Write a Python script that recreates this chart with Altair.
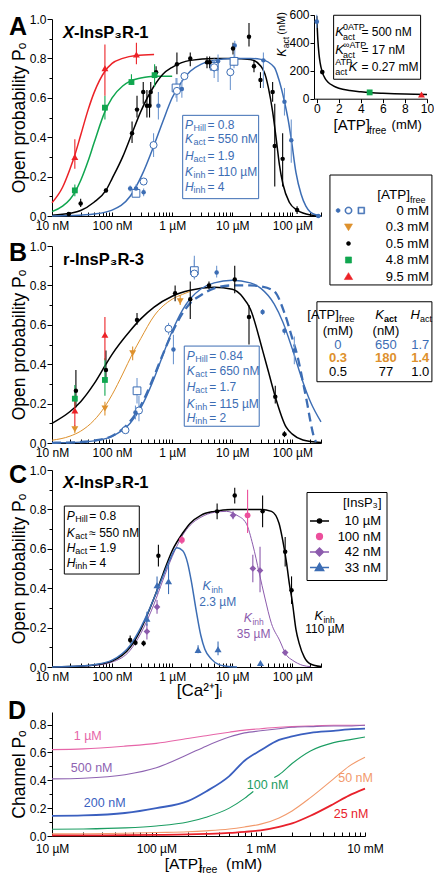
import altair as alt
import pandas as pd

FONT = "Liberation Sans"
BLACK = "#000000"
BLUE = "#3c6db4"
BLUE_BAR = "#7098d0"
RED = "#ec2227"
GREEN = "#10a64f"
ORANGE = "#de912d"
PINK = "#ec4f9c"
PURPLE = "#8c5bad"
D_COLORS = {"pink": "#e665a8", "purple": "#8e63b1", "blue": "#3a5fbf",
            "green": "#1b9d62", "orange": "#f29a6c", "red": "#e8212b"}

W, H = 269, 197
PAD_B, PAD_D = 3, 18
WD, HD = 313, 124

# ------------------------------------------------------------------ Panel A
A_BLUE_CURVE_X = [0.01, 0.02, 0.05, 0.1, 0.2, 0.316, 0.5, 0.7, 1, 1.5, 2, 3, 5, 10, 20, 30, 50, 60, 74, 85, 96, 115, 140, 168, 200, 300]
A_BLUE_CURVE_Y = [0.0, 0.002, 0.01, 0.03, 0.10, 0.21, 0.36, 0.48, 0.6, 0.69, 0.735, 0.77, 0.79, 0.8, 0.8, 0.795, 0.755, 0.69, 0.58, 0.49, 0.39, 0.22, 0.11, 0.05, 0.02, 0.0]
A_BLACK_CURVE_X = [0.01, 0.02, 0.03, 0.05, 0.079, 0.1, 0.15, 0.215, 0.3, 0.5, 0.7, 1, 2, 5, 10, 20, 30, 36.7, 40, 47, 55, 61, 70, 89, 120, 150, 200, 300]
A_BLACK_CURVE_Y = [0.004, 0.014, 0.028, 0.07, 0.13, 0.19, 0.30, 0.42, 0.53, 0.66, 0.72, 0.755, 0.79, 0.80, 0.80, 0.795, 0.76, 0.70, 0.65, 0.53, 0.37, 0.26, 0.16, 0.07, 0.03, 0.015, 0.005, 0.0]
A_GREEN_CURVE_X = [0.01, 0.015, 0.02, 0.024, 0.03, 0.04, 0.05, 0.076, 0.1, 0.15, 0.2, 0.3, 0.5, 1]
A_GREEN_CURVE_Y = [0.022, 0.05, 0.085, 0.12, 0.18, 0.28, 0.37, 0.53, 0.60, 0.66, 0.685, 0.70, 0.71, 0.71]
A_RED_CURVE_X = [0.01, 0.015, 0.02, 0.024, 0.03, 0.04, 0.05, 0.076, 0.1, 0.15, 0.25, 0.5]
A_RED_CURVE_Y = [0.067, 0.146, 0.24, 0.31, 0.41, 0.54, 0.625, 0.735, 0.775, 0.80, 0.815, 0.82]

A_BLUE_X = [0.20, 0.25, 0.335, 0.59, 1.45, 5.8, 11, 33, 74, 96, 270]
A_BLUE_Y = [0.14, 0.14, 0.12, 0.56, 0.645, 0.785, 0.865, 0.79, 0.58, 0.385, 0.0]
A_BLUE_LO = [0.125, 0.12, 0.10, 0.49, 0.60, 0.68, 0.80, 0.65, 0.51, 0.27, 0.0]
A_BLUE_HI = [0.155, 0.16, 0.14, 0.63, 0.69, 0.82, 0.89, 0.83, 0.65, 0.49, 0.0]
A_OC_X = [0.335, 0.49, 1.2, 1.6, 5.0, 9.3]
A_OC_Y = [0.175, 0.36, 0.635, 0.71, 0.755, 0.73]
A_OC_LO = [0.16, 0.30, 0.58, 0.69, 0.70, 0.64]
A_OC_HI = [0.19, 0.42, 0.70, 0.73, 0.80, 0.80]
A_OS_X = [0.25, 1.16, 5.0, 10.7]
A_OS_Y = [0.115, 0.65, 0.76, 0.785]
A_OS_LO = [0.10, 0.60, 0.73, 0.75]
A_OS_HI = [0.13, 0.70, 0.79, 0.82]
A_BLACK_X = [0.019, 0.030, 0.079, 0.215, 0.26, 0.33, 0.38, 0.42, 0.44, 0.54, 1.2, 2.0, 3.8, 4.2, 10.3, 19, 23, 29.5, 47, 51, 69, 120]
A_BLACK_Y = [0.01, 0.064, 0.13, 0.42, 0.54, 0.63, 0.56, 0.56, 0.63, 0.73, 0.77, 0.80, 0.78, 0.78, 0.85, 0.91, 0.76, 0.69, 0.63, 0.355, 0.29, 0.03]
A_BLACK_LO = [0.005, 0.046, 0.12, 0.37, 0.50, 0.57, 0.50, 0.50, 0.56, 0.70, 0.72, 0.76, 0.75, 0.75, 0.82, 0.86, 0.73, 0.65, 0.58, 0.15, 0.15, 0.01]
A_BLACK_HI = [0.015, 0.088, 0.14, 0.48, 0.61, 0.68, 0.64, 0.62, 0.68, 0.76, 0.83, 0.83, 0.81, 0.81, 0.88, 0.98, 0.79, 0.73, 0.68, 0.57, 0.42, 0.05]
A_GREEN_X = [0.024, 0.076, 0.21, 0.51]
A_GREEN_Y = [0.13, 0.55, 0.68, 0.715]
A_GREEN_LO = [0.10, 0.49, 0.665, 0.655]
A_GREEN_HI = [0.16, 0.61, 0.72, 0.77]
A_RED_X = [0.024, 0.076, 0.254]
A_RED_Y = [0.30, 0.75, 0.82]
A_RED_LO = [0.24, 0.61, 0.77]
A_RED_HI = [0.39, 0.87, 0.88]

# inset (Kact vs ATP)
IN_CURVE_X = [0, 0.1, 0.2, 0.3, 0.5, 0.75, 1, 1.5, 2, 3, 4, 5, 6, 8, 10]
IN_CURVE_Y = [590, 420, 320, 260, 190, 145, 120, 92, 75, 58, 49, 43, 39, 33, 30]
IN_PT_X = [0, 0.5, 4.8, 9.5]
IN_PT_Y = [550, 190, 45, 30]

ATP_LABELS = ["0 mM", "0.3 mM", "0.5 mM", "4.8 mM", "9.5 mM"]
ATP_COLORS = [BLUE, ORANGE, BLACK, GREEN, RED]
ATP_SHAPES = [
    "M-1.55,0a0.25,0.25 0 1,0 0.5,0a0.25,0.25 0 1,0 -0.5,0Z"
    "M-0.45,0a0.45,0.45 0 1,0 0.9,0a0.45,0.45 0 1,0 -0.9,0Z"
    "M-0.34,0a0.34,0.34 0 1,1 0.68,0a0.34,0.34 0 1,1 -0.68,0Z"
    "M1.18,-0.42L2.02,-0.42L2.02,0.42L1.18,0.42Z"
    "M1.29,-0.31L1.29,0.31L1.91,0.31L1.91,-0.31Z",
    "M-0.5,-0.38L0.5,-0.38L0,0.46Z",
    "M-0.25,0a0.25,0.25 0 1,0 0.5,0a0.25,0.25 0 1,0 -0.5,0Z",
    "M-0.38,-0.38L0.38,-0.38L0.38,0.38L-0.38,0.38Z",
    "M0,-0.48L0.52,0.38L-0.52,0.38Z",
]

# ------------------------------------------------------------------ Panel B
B_BLACK_CURVE_X = [0.01, 0.02, 0.03, 0.05, 0.079, 0.1, 0.2, 0.3, 0.5, 1, 2, 5, 10, 15, 20, 32, 41, 52, 79, 100, 150, 300]
B_BLACK_CURVE_Y = [0.10, 0.16, 0.21, 0.30, 0.40, 0.45, 0.57, 0.63, 0.69, 0.745, 0.775, 0.79, 0.78, 0.74, 0.68, 0.47, 0.35, 0.235, 0.08, 0.045, 0.015, 0.002]
B_ORANGE_CURVE_X = [0.01, 0.02, 0.03, 0.05, 0.076, 0.1, 0.15, 0.22, 0.3, 0.5, 1, 1.5, 2]
B_ORANGE_CURVE_Y = [0.014, 0.035, 0.06, 0.115, 0.185, 0.245, 0.35, 0.455, 0.53, 0.645, 0.73, 0.755, 0.77]
B_BLUE_CURVE_X = [0.01, 0.03, 0.05, 0.1, 0.2, 0.3, 0.5, 0.7, 1, 1.5, 2, 3, 5, 10, 20, 30, 50, 70, 100, 150, 200, 300]
B_BLUE_CURVE_Y = [0.001, 0.0045, 0.011, 0.034, 0.10, 0.178, 0.328, 0.446, 0.567, 0.677, 0.732, 0.782, 0.813, 0.826, 0.813, 0.785, 0.705, 0.612, 0.477, 0.31, 0.209, 0.107]
B_DASH_CURVE_X = [0.01, 0.03, 0.05, 0.1, 0.2, 0.3, 0.5, 0.7, 1, 1.5, 2, 3, 5, 10, 20, 30, 50, 74, 100, 122, 150, 177, 200, 229, 250]
B_DASH_CURVE_Y = [0.001, 0.005, 0.012, 0.036, 0.11, 0.19, 0.34, 0.45, 0.56, 0.66, 0.71, 0.75, 0.785, 0.80, 0.80, 0.795, 0.77, 0.66, 0.53, 0.44, 0.31, 0.20, 0.11, 0.03, 0.005]

B_BLACK_X = [0.025, 0.079, 0.26, 1.12, 2.0, 4.1, 11, 19, 52, 74]
B_BLACK_Y = [0.265, 0.37, 0.625, 0.76, 0.73, 0.80, 0.83, 0.64, 0.235, 0.045]
B_BLACK_LO = [0.18, 0.32, 0.60, 0.72, 0.63, 0.78, 0.76, 0.50, 0.20, 0.03]
B_BLACK_HI = [0.37, 0.47, 0.66, 0.80, 0.82, 0.82, 0.90, 0.70, 0.29, 0.06]
B_ORANGE_X = [0.024, 0.076, 0.22, 1.36]
B_ORANGE_Y = [0.07, 0.175, 0.455, 0.72]
B_ORANGE_LO = [0.05, 0.14, 0.42, 0.70]
B_ORANGE_HI = [0.09, 0.21, 0.49, 0.75]
B_GREEN_X = [0.024, 0.076]
B_GREEN_Y = [0.225, 0.32]
B_GREEN_LO = [0.185, 0.24]
B_GREEN_HI = [0.295, 0.43]
B_RED_X = [0.024, 0.076]
B_RED_Y = [0.165, 0.55]
B_RED_LO = [0.085, 0.42]
B_RED_HI = [0.24, 0.64]
B_BLUE_X = [0.245, 1.05, 5.5, 32, 74, 108]
B_BLUE_Y = [0.155, 0.475, 0.865, 0.665, 0.57, 0.47]
B_BLUE_LO = [0.12, 0.40, 0.84, 0.65, 0.55, 0.40]
B_BLUE_HI = [0.19, 0.55, 0.90, 0.68, 0.59, 0.54]
B_OC_X = [0.167, 0.28, 0.87, 2.34]
B_OC_Y = [0.065, 0.165, 0.58, 0.86]
B_OC_LO = [0.06, 0.11, 0.55, 0.83]
B_OC_HI = [0.07, 0.24, 0.61, 0.93]
B_OS_X = [0.26, 2.34]
B_OS_Y = [0.265, 0.875]
B_OS_LO = [0.20, 0.85]
B_OS_HI = [0.33, 0.95]

# ------------------------------------------------------------------ Panel C
C_BLACK_CURVE_X = [0.01, 0.02, 0.05, 0.1, 0.2, 0.3, 0.5, 0.7, 1, 1.5, 2, 3, 5, 10, 20, 30, 45, 60, 69, 80, 89, 100, 115, 130, 158, 200, 300]
C_BLACK_CURVE_Y = [0.0, 0.002, 0.01, 0.03, 0.10, 0.19, 0.35, 0.47, 0.59, 0.68, 0.73, 0.77, 0.79, 0.80, 0.80, 0.80, 0.79, 0.73, 0.645, 0.53, 0.425, 0.33, 0.19, 0.12, 0.05, 0.015, 0.002]
C_PURPLE_CURVE_X = [0.01, 0.05, 0.1, 0.2, 0.3, 0.5, 0.7, 1, 1.5, 2, 3, 5, 8, 12, 17, 22, 28, 35, 45, 61, 80, 100, 150, 200]
C_PURPLE_CURVE_Y = [0.0, 0.008, 0.025, 0.085, 0.17, 0.32, 0.44, 0.56, 0.67, 0.72, 0.76, 0.785, 0.79, 0.77, 0.73, 0.62, 0.48, 0.35, 0.22, 0.137, 0.06, 0.035, 0.008, 0.002]
C_BLUE_CURVE_X = [0.01, 0.03, 0.05, 0.1, 0.2, 0.3, 0.4, 0.5, 0.7, 0.9, 1.2, 1.5, 1.8, 2.1, 2.5, 3, 3.5, 4.5, 6, 8, 12]
C_BLUE_CURVE_Y = [0.0, 0.005, 0.012, 0.035, 0.11, 0.2, 0.28, 0.35, 0.46, 0.54, 0.605, 0.59, 0.53, 0.43, 0.29, 0.16, 0.09, 0.04, 0.012, 0.004, 0.0]

C_BLACK_X = [0.20, 0.245, 0.335, 0.59, 5.6, 11, 32, 76, 97]
C_BLACK_Y = [0.137, 0.123, 0.12, 0.565, 0.79, 0.87, 0.79, 0.585, 0.39]
C_BLACK_LO = [0.12, 0.11, 0.105, 0.51, 0.75, 0.83, 0.71, 0.51, 0.32]
C_BLACK_HI = [0.16, 0.14, 0.135, 0.62, 0.83, 0.91, 0.87, 0.66, 0.46]
C_PINK_X = [1.45, 18]
C_PINK_Y = [0.645, 0.77]
C_PINK_LO = [0.625, 0.68]
C_PINK_HI = [0.665, 0.90]
C_PURPLE_X = [0.38, 0.56, 10.3, 22, 29, 76]
C_PURPLE_Y = [0.18, 0.305, 0.77, 0.50, 0.49, 0.073]
C_PURPLE_LO = [0.14, 0.27, 0.75, 0.43, 0.38, 0.07]
C_PURPLE_HI = [0.22, 0.34, 0.79, 0.57, 0.61, 0.08]
C_BLUE_X = [0.38, 0.56, 0.87, 2.7, 5.8, 29.5]
C_BLUE_Y = [0.245, 0.415, 0.435, 0.087, 0.09, 0.02]
C_BLUE_LO = [0.21, 0.37, 0.37, 0.07, 0.06, 0.01]
C_BLUE_HI = [0.28, 0.46, 0.52, 0.11, 0.13, 0.03]

INSP_LABELS = ["10 \u00b5M", "100 nM", "42 nM", "33 nM"]
INSP_COLORS = [BLACK, PINK, PURPLE, BLUE]
INSP_SHAPES = [
    "M-1.36,0L1.36,0M-0.3,0a0.3,0.3 0 1,0 0.6,0a0.3,0.3 0 1,0 -0.6,0Z",
    "M-0.42,0a0.42,0.42 0 1,0 0.84,0a0.42,0.42 0 1,0 -0.84,0Z",
    "M-1.36,0L1.36,0M0,-0.57L0.57,0L0,0.57L-0.57,0Z",
    "M-1.36,0L1.36,0M0,-0.6L0.6,0.43L-0.6,0.43Z",
]

# ------------------------------------------------------------------ Panel D
D_X = [10, 20, 50, 100, 200, 300, 500, 700, 1000, 1500, 2000, 3000, 5000, 7000, 10000]
D_PINK = [0.62, 0.625, 0.645, 0.665, 0.70, 0.72, 0.745, 0.76, 0.77, 0.78, 0.785, 0.79, 0.795, 0.795, 0.795]
D_PURPLE = [0.41, 0.415, 0.44, 0.49, 0.585, 0.645, 0.71, 0.74, 0.755, 0.77, 0.78, 0.785, 0.79, 0.79, 0.795]
D_BLUE = [0.145, 0.148, 0.165, 0.20, 0.25, 0.32, 0.43, 0.54, 0.615, 0.69, 0.715, 0.74, 0.755, 0.765, 0.77]
D_ORANGE = [0.015, 0.016, 0.02, 0.025, 0.03, 0.037, 0.05, 0.065, 0.085, 0.13, 0.18, 0.275, 0.41, 0.50, 0.565]
D_RED = [0.005, 0.005, 0.006, 0.008, 0.011, 0.015, 0.022, 0.03, 0.04, 0.065, 0.09, 0.145, 0.23, 0.29, 0.34]
D_GREEN1_X = [10, 20, 50, 100, 200, 300, 500, 700, 850]
D_GREEN1_Y = [0.048, 0.05, 0.058, 0.072, 0.10, 0.135, 0.20, 0.27, 0.32]
D_GREEN2_X = [1350, 1500, 2000, 3000, 5000, 7000, 10000]
D_GREEN2_Y = [0.42, 0.44, 0.52, 0.61, 0.67, 0.69, 0.71]
D_LABEL_T = ["1 \u00b5M", "500 nM", "200 nM", "100 nM", "50 nM", "25 nM"]
D_LABEL_X = [22, 24, 32, 1166, 8130, 7350]
D_LABEL_Y = [0.72, 0.49, 0.237, 0.363, 0.417, 0.155]
D_LABEL_C = ["pink", "purple", "blue", "green", "orange", "red"]

# tick positions
X_DEC = [0.01, 0.1, 1, 10, 100]
X_ALL = [m * d for d in (0.01, 0.1, 1, 10, 100) for m in range(1, 10) if m * d <= 300]
X_LAB = ("datum.value == 0.01 ? '10 nM' : datum.value == 0.1 ? '100 nM' : datum.value == 1 ? '1 \u00b5M' : "
         "datum.value == 10 ? '10 \u00b5M' : '100 \u00b5M'")
D_DEC = [10, 100, 1000, 10000]
D_ALL = [m * d for d in (10, 100, 1000) for m in range(1, 10)] + [10000]
D_LAB = "datum.value == 10 ? '10 \u00b5M' : datum.value == 100 ? '100 \u00b5M' : datum.value == 1000 ? '1 mM' : '10 mM'"
Y_MAJ = [0, 0.2, 0.4, 0.6, 0.8, 1.0]
Y_MIN = [0.1, 0.3, 0.5, 0.7, 0.9]
YD_MAJ = [0, 0.2, 0.4, 0.6, 0.8]
YD_MIN = [0.1, 0.3, 0.5, 0.7]
PO_TITLE = "Open probability P\u2092"


def frame(**cols):
    return pd.DataFrame(cols)


def XQ(xs, field="x"):
    return alt.X(f"{field}:Q", scale=xs, axis=None)


def YQ(ys, field="y"):
    return alt.Y(f"{field}:Q", scale=ys, axis=None)


def curve(x, y, xs, ys, color, width=1.5, dash=None):
    kw = dict(color=color, strokeWidth=width, interpolate="monotone")
    if dash:
        kw["strokeDash"] = dash
    return alt.Chart(frame(x=x, y=y)).mark_line(**kw).encode(x=XQ(xs), y=YQ(ys))


def bars(x, lo, hi, xs, ys, color, width=1.1):
    return alt.Chart(frame(x=x, lo=lo, hi=hi)).mark_rule(color=color, strokeWidth=width).encode(
        x=XQ(xs), y=YQ(ys, "lo"), y2=alt.Y2("hi:Q"))


def pts(x, y, xs, ys, shape, color, size, hollow=False, sw=1.0):
    if hollow:
        kw = dict(shape=shape, filled=True, fill="white", stroke=color, strokeWidth=sw, size=size, opacity=1)
    else:
        kw = dict(shape=shape, filled=True, color=color, size=size, opacity=1)
    return alt.Chart(frame(x=x, y=y)).mark_point(**kw).encode(x=XQ(xs), y=YQ(ys))


def T(x, y, t, xs, ys, size=12, color=BLACK, align="left", baseline="middle",
      style="normal", weight="normal", dx=0, dy=0, angle=0):
    return alt.Chart(frame(x=x, y=y, t=t)).mark_text(
        font=FONT, fontSize=size, color=color, align=align, baseline=baseline,
        fontStyle=style, fontWeight=weight, dx=dx, dy=dy, angle=angle).encode(
        x=XQ(xs), y=YQ(ys), text=alt.Text("t:N"))


def rect(x, x2, y, y2, xs, ys, color, sw=1.0):
    return alt.Chart(frame(x=[x], x2=[x2], y=[y], y2=[y2])).mark_rect(
        fillOpacity=0, stroke=color, strokeWidth=sw).encode(
        x=XQ(xs), x2=alt.X2("x2:Q"), y=YQ(ys), y2=alt.Y2("y2:Q"))


def stat_box(x0, ylist, syms, subs, vals, xs, ys, color, size=12):
    n = len(syms)
    return [T([x0] * n, ylist, syms, xs, ys, size, color, style="italic"),
            T([x0] * n, ylist, subs, xs, ys, 9, color, dx=8.5, dy=3),
            T([x0] * n, ylist, vals, xs, ys, size, color, dx=22.5)]


def carriers(x, y, xs, ys, hgroup, xdec, xall, labexpr, ymaj, ymin, ytitle,
             xtitle=None, titlex=None, labpad=4):
    xa = dict(orient="bottom", values=xdec, labelExpr=labexpr, ticks=False, domainColor=BLACK,
              domainWidth=1, labelPadding=labpad, labelFlush=False, labelOverlap=False,
              labelFontSize=12, title=xtitle, titleFontSize=17, titleFontWeight="normal", titlePadding=0)
    if titlex is not None:
        xa["titleX"] = titlex
    ax1 = alt.Axis(**xa)
    ay1 = alt.Axis(orient="left", values=ymaj, format=".1f", tickSize=5, tickColor=BLACK, tickWidth=1,
                   domainColor=BLACK, domainWidth=1, labelPadding=1, labelFontSize=12, labelOverlap=False,
                   title=ytitle, titleFontSize=17.5, titleFontWeight="normal", titlePadding=1)
    ax2 = alt.Axis(orient="top", offset=-hgroup, values=xall, labels=False, domain=False, tickSize=4,
                   tickColor=BLACK, tickWidth=1, title=None)
    ay2 = alt.Axis(orient="left", values=ymin, labels=False, domain=False, tickSize=3,
                   tickColor=BLACK, tickWidth=1, title=None)
    df = frame(x=x, y=y)
    c1 = alt.Chart(df).mark_point(opacity=0).encode(x=alt.X("x:Q", scale=xs, axis=ax1),
                                                    y=alt.Y("y:Q", scale=ys, axis=ay1))
    c2 = alt.Chart(df).mark_point(opacity=0).encode(x=alt.X("x:Q", scale=xs, axis=ax2),
                                                    y=alt.Y("y:Q", scale=ys, axis=ay2))
    return [c1, c2]


def title_text(x, y, first, rest, xs, ys, italic_first=True):
    return [T([x], [y], [first], xs, ys, 16.5, BLACK, style="italic" if italic_first else "normal", weight="bold"),
            T([x], [y], [rest], xs, ys, 16.5, BLACK, weight="bold", dx=11 if italic_first else 0)]


BOX_RIGHT = 21040  # right edge of legend / table boxes (µM units of panels A-B)

# ================================================================== build A
xsA = alt.Scale(type="log", domain=[0.01, 300], nice=False)
ysA = alt.Scale(domain=[0, 1], nice=False, zero=False)

leg_atp = alt.Legend(orient="none", legendX=288, legendY=183, title=None, labelAlign="right",
                     labelOffset=72, labelFontSize=13, symbolSize=256, symbolStrokeWidth=0.6,
                     symbolOpacity=1, padding=0, rowPadding=0.5)
atp_dummy = alt.Chart(frame(atp=ATP_LABELS)).mark_point(filled=True, opacity=0, size=256).encode(
    color=alt.Color("atp:N", scale=alt.Scale(domain=ATP_LABELS, range=ATP_COLORS), legend=leg_atp),
    stroke=alt.Stroke("atp:N", scale=alt.Scale(domain=ATP_LABELS, range=ATP_COLORS), legend=leg_atp),
    shape=alt.Shape("atp:N", scale=alt.Scale(domain=ATP_LABELS, range=ATP_SHAPES), legend=leg_atp),
)

layersA = carriers(A_BLUE_CURVE_X, A_BLUE_CURVE_Y, xsA, ysA, H, X_DEC, X_ALL, X_LAB, Y_MAJ, Y_MIN, PO_TITLE)
layersA += [
    curve(A_RED_CURVE_X, A_RED_CURVE_Y, xsA, ysA, RED),
    curve(A_GREEN_CURVE_X, A_GREEN_CURVE_Y, xsA, ysA, GREEN),
    curve(A_BLACK_CURVE_X, A_BLACK_CURVE_Y, xsA, ysA, BLACK),
    curve(A_BLUE_CURVE_X, A_BLUE_CURVE_Y, xsA, ysA, BLUE),
    bars(A_BLUE_X, A_BLUE_LO, A_BLUE_HI, xsA, ysA, BLUE_BAR),
    bars(A_OC_X, A_OC_LO, A_OC_HI, xsA, ysA, BLUE_BAR),
    bars(A_OS_X, A_OS_LO, A_OS_HI, xsA, ysA, BLUE_BAR),
    bars(A_BLACK_X, A_BLACK_LO, A_BLACK_HI, xsA, ysA, BLACK),
    bars(A_GREEN_X, A_GREEN_LO, A_GREEN_HI, xsA, ysA, GREEN),
    bars(A_RED_X, A_RED_LO, A_RED_HI, xsA, ysA, RED),
    pts(A_OS_X, A_OS_Y, xsA, ysA, "square", BLUE, 60, hollow=True),
    pts(A_OC_X, A_OC_Y, xsA, ysA, "circle", BLUE, 50, hollow=True),
    pts(A_BLUE_X, A_BLUE_Y, xsA, ysA, "circle", BLUE, 20),
    pts(A_BLACK_X, A_BLACK_Y, xsA, ysA, "circle", BLACK, 20),
    pts(A_GREEN_X, A_GREEN_Y, xsA, ysA, "square", GREEN, 34),
    pts(A_RED_X, A_RED_Y, xsA, ysA, "triangle-up", RED, 48),
    rect(1.496, 27.5, 0.511, 0.088, xsA, ysA, BLUE),
]
layersA += stat_box(1.633, [0.46, 0.389, 0.305, 0.223, 0.147], ["P", "K", "H", "K", "H"],
                    ["Hill", "act", "act", "inh", "inh"],
                    ["= 0.8", "= 550 nM", "= 1.9", "= 110 \u00b5M", "= 4"], xsA, ysA, BLUE)
layersA += title_text(0.01524, 0.93, "X", "-InsP\u2083R-1", xsA, ysA)
layersA += [
    T([0.001925], [0.957], ["A"], xsA, ysA, 25, BLACK, weight="bold"),
    rect(422.6, BOX_RIGHT, 0.208, -0.35, xsA, ysA, BLACK),
    T([9057], [0.107], ["[ATP]"], xsA, ysA, 13.5, BLACK, align="right"),
    T([9057], [0.107], ["free"], xsA, ysA, 9, BLACK, dy=5),
    atp_dummy,
]
A_main = alt.layer(*layersA).resolve_axis(x="independent", y="independent")

xsI = alt.Scale(domain=[-0.25, 10], range=[262, 375], nice=False, zero=False)
ysI = alt.Scale(domain=[0, 600], range=[79.7, -4.3], nice=False, zero=False)
axIx = alt.Axis(orient="bottom", offset=-117.3, values=[0, 2, 4, 6, 8, 10], format="d", tickSize=4,
                labelPadding=1, labelFontSize=12, labelFlush=False, labelOverlap=False,
                domainColor=BLACK, tickColor=BLACK, title=None)
axIy = alt.Axis(orient="left", offset=-262, values=[0, 200, 400, 600], format="d", tickSize=4,
                labelPadding=1, labelFontSize=12, labelOverlap=False, domainColor=BLACK,
                tickColor=BLACK, title=None)
inset_layers = [
    alt.Chart(frame(x=IN_CURVE_X, y=IN_CURVE_Y)).mark_line(color=BLACK, strokeWidth=1.5, interpolate="monotone").encode(
        x=alt.X("x:Q", scale=xsI, axis=axIx), y=alt.Y("y:Q", scale=ysI, axis=axIy)),
    bars([0], [505], [600], xsI, ysI, BLUE_BAR),
    pts(IN_PT_X[0:1], IN_PT_Y[0:1], xsI, ysI, "circle", BLUE, 22),
    pts(IN_PT_X[1:2], IN_PT_Y[1:2], xsI, ysI, "circle", BLACK, 22),
    pts(IN_PT_X[2:3], IN_PT_Y[2:3], xsI, ysI, "square", GREEN, 34),
    pts(IN_PT_X[3:4], IN_PT_Y[3:4], xsI, ysI, "triangle-up", RED, 48),
    rect(1.53, 9.42, 596, 139, xsI, ysI, BLACK),
    T([1.68, 1.68], [476, 346], ["K", "K"], xsI, ysI, 13, style="italic"),
    T([2.38, 2.38], [476, 346], ["0ATP", "\u221eATP"], xsI, ysI, 9, dy=-5),
    T([2.38, 2.38], [476, 346], ["act", "act"], xsI, ysI, 9, dy=5),
    T([1.68], [226], ["ATP"], xsI, ysI, 9, dy=-5),
    T([1.68], [226], ["act"], xsI, ysI, 9, dy=5),
    T([2.905], [226], ["K"], xsI, ysI, 13, style="italic"),
    T([4.05, 4.05, 4.05], [476, 346, 226], ["= 500 nM", "= 17 nM", "= 0.27 mM"], xsI, ysI, 12),
    T([-3.15], [300], ["K"], xsI, ysI, 12.5, style="italic", angle=270),
    T([-3.15], [300], ["act"], xsI, ysI, 8.5, dx=8.5, dy=4, angle=270),
    T([-3.15], [300], ["(nM)"], xsI, ysI, 11, dx=22, angle=270),
    T([1.53], [-188], ["[ATP]"], xsI, ysI, 15),
    T([4.75], [-232], ["free"], xsI, ysI, 10),
    T([6.79], [-190], ["(mM)"], xsI, ysI, 13),
]
A_inset = alt.layer(*inset_layers).resolve_axis(x="independent", y="independent")
A = alt.layer(A_main, A_inset).resolve_scale(x="independent", y="independent").properties(width=W, height=H)

# ================================================================== build B
xsB = alt.Scale(type="log", domain=[0.01, 300], nice=False)
ysB = alt.Scale(domain=[0, 1], nice=False, zero=False, range=[H + PAD_B, PAD_B])
layersB = carriers(B_BLUE_CURVE_X, B_BLUE_CURVE_Y, xsB, ysB, H + PAD_B, X_DEC, X_ALL, X_LAB, Y_MAJ, Y_MIN, PO_TITLE)
layersB += [
    curve(B_BLACK_CURVE_X, B_BLACK_CURVE_Y, xsB, ysB, BLACK),
    curve(B_ORANGE_CURVE_X, B_ORANGE_CURVE_Y, xsB, ysB, ORANGE, 1.0),
    curve(B_BLUE_CURVE_X, B_BLUE_CURVE_Y, xsB, ysB, BLUE, 1.4),
    curve(B_DASH_CURVE_X, B_DASH_CURVE_Y, xsB, ysB, BLUE, 2.3, dash=[9, 5]),
    bars(B_BLUE_X, B_BLUE_LO, B_BLUE_HI, xsB, ysB, BLUE_BAR),
    bars(B_OC_X, B_OC_LO, B_OC_HI, xsB, ysB, BLUE_BAR),
    bars(B_OS_X, B_OS_LO, B_OS_HI, xsB, ysB, BLUE_BAR),
    bars(B_BLACK_X, B_BLACK_LO, B_BLACK_HI, xsB, ysB, BLACK),
    bars(B_ORANGE_X, B_ORANGE_LO, B_ORANGE_HI, xsB, ysB, ORANGE),
    bars(B_GREEN_X, B_GREEN_LO, B_GREEN_HI, xsB, ysB, GREEN),
    bars(B_RED_X, B_RED_LO, B_RED_HI, xsB, ysB, RED),
    pts(B_OS_X, B_OS_Y, xsB, ysB, "square", BLUE, 60, hollow=True),
    pts(B_OC_X, B_OC_Y, xsB, ysB, "circle", BLUE, 50, hollow=True),
    pts(B_BLUE_X, B_BLUE_Y, xsB, ysB, "circle", BLUE, 20),
    pts(B_BLACK_X, B_BLACK_Y, xsB, ysB, "circle", BLACK, 20),
    pts(B_ORANGE_X, B_ORANGE_Y, xsB, ysB, "triangle-down", ORANGE, 48),
    pts(B_GREEN_X, B_GREEN_Y, xsB, ysB, "square", GREEN, 34),
    pts(B_RED_X, B_RED_Y, xsB, ysB, "triangle-up", RED, 48),
    rect(1.589, 28.1, 0.492, 0.085, xsB, ysB, BLUE),
]
layersB += stat_box(1.742, [0.442, 0.365, 0.286, 0.20, 0.125], ["P", "K", "H", "K", "H"],
                    ["Hill", "act", "act", "inh", "inh"],
                    ["= 0.84", "= 650 nM", "= 1.7", "= 115 \u00b5M", "= 2"], xsB, ysB, BLUE)
layersB += title_text(0.01524, 0.93, "", "r-InsP\u2083R-3", xsB, ysB, italic_first=False)
TAB_COLX = [574, 3610, 13430]
layersB += [
    T([0.001925], [0.964], ["B"], xsB, ysB, 25, BLACK, weight="bold"),
    rect(256.6, BOX_RIGHT, 0.717, 0.311, xsB, ysB, BLACK),
    T([596], [0.65], ["[ATP]"], xsB, ysB, 13, align="right"),
    T([596], [0.65], ["free"], xsB, ysB, 9, dy=4),
    T([3345, 13280], [0.65, 0.65], ["K", "H"], xsB, ysB, 13, align="right", style="italic"),
    T([3345], [0.65], ["act"], xsB, ysB, 9, weight="bold", dy=4),
    T([13280], [0.65], ["act"], xsB, ysB, 9, dy=4),
    T(TAB_COLX[:2], [0.566, 0.566], ["(mM)", "(nM)"], xsB, ysB, 13, align="center"),
    T(TAB_COLX, [0.497] * 3, ["0", "650", "1.7"], xsB, ysB, 13, BLUE, align="center"),
    T(TAB_COLX, [0.430] * 3, ["0.3", "180", "1.4"], xsB, ysB, 13, ORANGE, align="center", weight="bold"),
    T(TAB_COLX, [0.362] * 3, ["0.5", "77", "1.0"], xsB, ysB, 13, BLACK, align="center"),
]
B = alt.layer(*layersB).resolve_axis(x="independent", y="independent").properties(width=W, height=H + PAD_B)

# ================================================================== build C
xsC = alt.Scale(type="log", domain=[0.01, 300], nice=False)
ysC = alt.Scale(domain=[0, 1], nice=False, zero=False)
leg_insp = alt.Legend(orient="none", legendX=254.5, legendY=22, title="[InsP\u2083]", titleAnchor="end",
                      titleFontSize=13, titleFontWeight="normal", titlePadding=3, labelAlign="right",
                      labelOffset=53.5, labelFontSize=13, symbolSize=196, symbolStrokeWidth=1.4,
                      symbolOpacity=1, padding=5, rowPadding=0.5, strokeColor=BLACK)
insp_dummy = alt.Chart(frame(insp=INSP_LABELS)).mark_point(filled=True, opacity=0, size=196).encode(
    color=alt.Color("insp:N", scale=alt.Scale(domain=INSP_LABELS, range=INSP_COLORS), legend=leg_insp),
    stroke=alt.Stroke("insp:N", scale=alt.Scale(domain=INSP_LABELS, range=INSP_COLORS), legend=leg_insp),
    shape=alt.Shape("insp:N", scale=alt.Scale(domain=INSP_LABELS, range=INSP_SHAPES), legend=leg_insp),
)
layersC = carriers(C_BLACK_CURVE_X, C_BLACK_CURVE_Y, xsC, ysC, H, X_DEC, X_ALL, X_LAB, Y_MAJ, Y_MIN, PO_TITLE,
                   xtitle="[Ca\u00b2\u207a]\u1d62", titlex=147)
layersC += [
    curve(C_PURPLE_CURVE_X, C_PURPLE_CURVE_Y, xsC, ysC, PURPLE, 1.0),
    curve(C_BLACK_CURVE_X, C_BLACK_CURVE_Y, xsC, ysC, BLACK),
    curve(C_BLUE_CURVE_X, C_BLUE_CURVE_Y, xsC, ysC, BLUE),
    bars(C_BLACK_X, C_BLACK_LO, C_BLACK_HI, xsC, ysC, BLACK),
    bars(C_PINK_X, C_PINK_LO, C_PINK_HI, xsC, ysC, PINK),
    bars(C_PURPLE_X, C_PURPLE_LO, C_PURPLE_HI, xsC, ysC, PURPLE),
    bars(C_BLUE_X, C_BLUE_LO, C_BLUE_HI, xsC, ysC, BLUE),
    pts(C_BLACK_X, C_BLACK_Y, xsC, ysC, "circle", BLACK, 20),
    pts(C_PINK_X, C_PINK_Y, xsC, ysC, "circle", PINK, 34),
    pts(C_PURPLE_X, C_PURPLE_Y, xsC, ysC, "diamond", PURPLE, 44),
    pts(C_BLUE_X, C_BLUE_Y, xsC, ysC, "triangle-up", BLUE, 50),
    rect(0.01603, 0.2836, 0.817, 0.472, xsC, ysC, BLACK),
]
layersC += stat_box(0.01757, [0.766, 0.682, 0.606, 0.530], ["P", "K", "H", "H"],
                    ["Hill", "act", "act", "inh"],
                    ["= 0.8", "\u2248 550 nM", "=  1.9", "=  4"], xsC, ysC, BLACK)
layersC += title_text(0.01524, 0.932, "X", "-InsP\u2083R-1", xsC, ysC)
layersC += [
    T([0.001925], [0.975], ["C"], xsC, ysC, 25, BLACK, weight="bold"),
    T([4.42], [0.41], ["K"], xsC, ysC, 12.5, BLUE, align="right", style="italic"),
    T([4.42], [0.41], ["inh"], xsC, ysC, 8.5, BLUE, dx=0.5, dy=4),
    T([5.72], [0.328], ["2.3 \u00b5M"], xsC, ysC, 12, BLUE, align="center"),
    T([21.3], [0.25], ["K"], xsC, ysC, 12.5, PURPLE, align="right", style="italic"),
    T([21.3], [0.25], ["inh"], xsC, ysC, 8.5, PURPLE, dx=0.5, dy=4),
    T([22.7], [0.165], ["35 \u00b5M"], xsC, ysC, 12, PURPLE, align="center"),
    T([323], [0.257], ["K"], xsC, ysC, 12.5, BLACK, align="right", style="italic"),
    T([323], [0.257], ["inh"], xsC, ysC, 8.5, BLACK, dx=0.5, dy=4),
    T([348], [0.192], ["110 \u00b5M"], xsC, ysC, 12, BLACK, align="center"),
    insp_dummy,
]
C = alt.layer(*layersC).resolve_axis(x="independent", y="independent").properties(width=W, height=H)

# ================================================================== build D
xsD = alt.Scale(type="log", domain=[10, 10000], nice=False)
ysD = alt.Scale(domain=[0, 0.89], nice=False, zero=False, range=[HD + PAD_D, PAD_D])
layersD = carriers(D_X, D_BLUE, xsD, ysD, HD + PAD_D, D_DEC, D_ALL, D_LAB, YD_MAJ, YD_MIN,
                   "Channel P\u2092", labpad=7)
layersD += [
    curve(D_X, D_PINK, xsD, ysD, D_COLORS["pink"], 1.1),
    curve(D_X, D_PURPLE, xsD, ysD, D_COLORS["purple"], 1.1),
    curve(D_X, D_BLUE, xsD, ysD, D_COLORS["blue"], 1.8),
    curve(D_GREEN1_X, D_GREEN1_Y, xsD, ysD, D_COLORS["green"], 1.1),
    curve(D_GREEN2_X, D_GREEN2_Y, xsD, ysD, D_COLORS["green"], 1.1),
    curve(D_X, D_ORANGE, xsD, ysD, D_COLORS["orange"], 1.1),
    curve(D_X, D_RED, xsD, ysD, D_COLORS["red"], 1.8),
    T([3.79], [0.90], ["D"], xsD, ysD, 25, BLACK, weight="bold"),
    T([120.5], [-0.198], ["[ATP]"], xsD, ysD, 15.5),
    T([258], [-0.245], ["free"], xsD, ysD, 10.5),
    T([465], [-0.198], ["(mM)"], xsD, ysD, 15.5),
]
for i, lab in enumerate(D_LABEL_T):
    layersD.append(T([D_LABEL_X[i]], [D_LABEL_Y[i]], [lab], xsD, ysD, 12.5, D_COLORS[D_LABEL_C[i]], align="center"))
D = alt.layer(*layersD).resolve_axis(x="independent", y="independent").properties(width=WD, height=HD + PAD_D)

chart = (
    alt.vconcat(A, B, C, D, spacing=27, bounds="flush")
    .resolve_scale(color="independent", shape="independent", stroke="independent")
    .properties(padding={"left": 0, "top": 0, "right": 0, "bottom": 0})
    .configure_view(stroke=None)
    .configure_axis(labelFont=FONT, titleFont=FONT, labelColor=BLACK, titleColor=BLACK, grid=False)
    .configure_legend(labelFont=FONT, titleFont=FONT, labelColor=BLACK, titleColor=BLACK)
)

chart.save("out.html", embed_options={"renderer": "svg", "actions": False})
